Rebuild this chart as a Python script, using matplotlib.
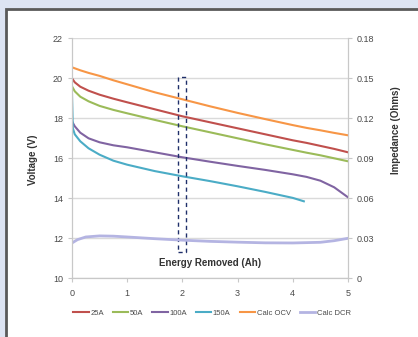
import matplotlib
matplotlib.use("Agg")
import matplotlib.pyplot as plt
from matplotlib.patches import Rectangle

plt.rcParams['font.family'] = ['Liberation Sans', 'DejaVu Sans']

# ---- data ----
x_main = [0, 0.05, 0.15, 0.3, 0.5, 0.75, 1, 1.5, 2, 2.5, 3, 3.5, 4, 4.25, 4.5, 4.75, 5]
v_25a = [20.0, 19.8, 19.58, 19.38, 19.18, 18.98, 18.8, 18.45, 18.1, 17.8, 17.5, 17.2,
         16.9, 16.77, 16.62, 16.47, 16.3]
v_50a = [19.6, 19.35, 19.08, 18.85, 18.62, 18.42, 18.25, 17.92, 17.6, 17.3, 17.0, 16.7,
         16.42, 16.28, 16.15, 16.0, 15.85]
v_100a = [17.85, 17.6, 17.28, 17.0, 16.8, 16.65, 16.55, 16.3, 16.05, 15.83, 15.62, 15.42,
          15.2, 15.07, 14.88, 14.55, 14.05]
x_150a = [0, 0.015, 0.05, 0.15, 0.3, 0.5, 0.75, 1, 1.5, 2, 2.5, 3, 3.5, 4, 4.2]
v_150a = [19.2, 17.5, 17.2, 16.85, 16.5, 16.18, 15.88, 15.68, 15.36, 15.1, 14.86, 14.6,
          14.32, 14.02, 13.85]
v_ocv = [20.55, 20.5, 20.4, 20.27, 20.12, 19.9, 19.7, 19.3, 18.95, 18.6, 18.27, 17.96,
         17.66, 17.52, 17.4, 17.27, 17.15]
x_dcr = [0, 0.1, 0.25, 0.5, 0.75, 1, 1.5, 2, 2.5, 3, 3.5, 4, 4.5, 4.75, 5]
r_dcr = [0.0265, 0.029, 0.031, 0.0318, 0.0316, 0.031, 0.0297, 0.0286, 0.0277, 0.0271,
         0.0266, 0.0265, 0.027, 0.0282, 0.0300]

series_labels = ["25A", "50A", "100A", "150A", "Calc OCV", "Calc DCR"]
colors = ["#c0504d", "#9bbb59", "#8064a2", "#4bacc6", "#f79646", "#b4b4e2"]

x_ticks = [0, 1, 2, 3, 4, 5]
v_ticks = [10, 12, 14, 16, 18, 20, 22]
r_ticks = [0, 0.03, 0.06, 0.09, 0.12, 0.15, 0.18]
r_ticklabels = ["0", "0.03", "0.06", "0.09", "0.12", "0.15", "0.18"]

highlight_x = (1.92, 2.07)
highlight_y = (11.3, 20.05)

# ---- figure ----
W, H = 418, 337
fig = plt.figure(figsize=(W / 100, H / 100), dpi=100)
fig.patch.set_facecolor("#dde4f3")
panel = Rectangle((6 / W, -0.05), 1.0, 1 - 9 / H + 0.05, transform=fig.transFigure,
                  facecolor="white", edgecolor="#5a5a5a", linewidth=2.0, zorder=-10)
fig.patches.append(panel)

ax = fig.add_axes([72 / W, 1 - 278.3 / H, (348 - 72) / W, (278.3 - 38.3) / H])
ax.set_facecolor("none")
ax2 = ax.twinx()

lw = 1.5
lines = []
lines += ax.plot(x_main, v_25a, color=colors[0], lw=lw)
lines += ax.plot(x_main, v_50a, color=colors[1], lw=lw)
lines += ax.plot(x_main, v_100a, color=colors[2], lw=lw)
lines += ax.plot(x_150a, v_150a, color=colors[3], lw=lw)
lines += ax.plot(x_main, v_ocv, color=colors[4], lw=lw)
lines += ax2.plot(x_dcr, r_dcr, color=colors[5], lw=2.0)

ax.set_xlim(0, 5)
ax.set_ylim(10, 22)
ax2.set_ylim(0, 0.18)
ax.set_xticks(x_ticks)
ax.set_yticks(v_ticks)
ax2.set_yticks(r_ticks)
ax2.set_yticklabels(r_ticklabels)

ax.grid(axis="y", color="#dadada", lw=1.0)
ax.set_axisbelow(True)

for a in (ax, ax2):
    for s in a.spines.values():
        s.set_color("#c8c8c8")
    a.spines["top"].set_visible(False)
    a.tick_params(labelsize=6.5, colors="#c8c8c8", labelcolor="#4a4a4a", length=3, width=0.8)
ax.tick_params(axis="x", pad=5)

ax.add_patch(Rectangle((highlight_x[0], highlight_y[0]), highlight_x[1] - highlight_x[0],
                       highlight_y[1] - highlight_y[0], fill=False, edgecolor="#1f2f6a",
                       linestyle=(0, (3, 2.5)), lw=1.0, zorder=5))

ax.text(2.5, 10.75, "Energy Removed (Ah)", ha="center", va="center", fontsize=7,
        fontweight="bold", color="#333333")
fig.text(33 / W, 1 - 160 / H, "Voltage (V)", rotation=90, ha="center", va="center",
         fontsize=7, fontweight="bold", color="#333333")
fig.text(396 / W, 1 - 130 / H, "Impedance (Ohms)", rotation=90, ha="center", va="center",
         fontsize=7, fontweight="bold", color="#333333")

fig.legend(lines, series_labels, loc="center", bbox_to_anchor=(212 / W, 1 - 313 / H),
           ncol=6, frameon=False, fontsize=5.5, handlelength=2.0, handletextpad=0.2,
           columnspacing=1.2, labelcolor="#4a4a4a")

fig.savefig("out.png", dpi=100, facecolor=fig.get_facecolor())
